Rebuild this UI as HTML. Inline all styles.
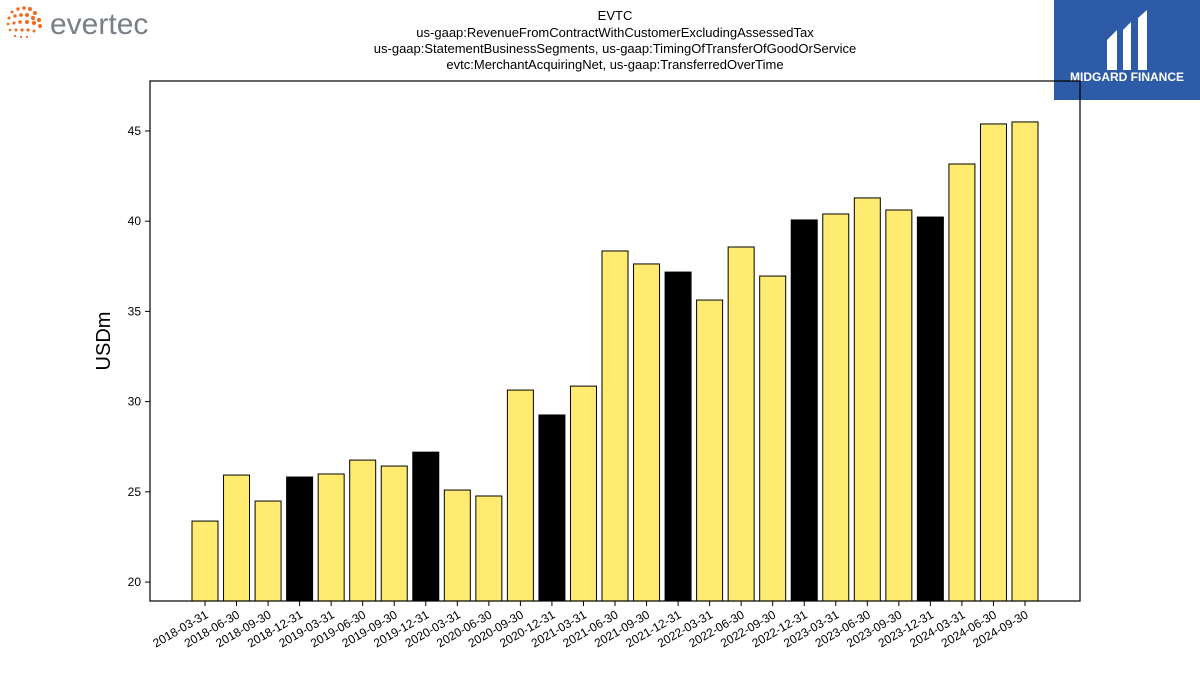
<!DOCTYPE html>
<html><head><meta charset="utf-8"><style>
body{margin:0;background:#fff;width:1200px;height:675px;overflow:hidden;font-family:"Liberation Sans",sans-serif}
</style></head><body>
<svg width="1200" height="675" xmlns="http://www.w3.org/2000/svg">
<g>
<g fill="#f26b21">
<circle cx="12" cy="12" r="1.5"/><circle cx="18" cy="9" r="1.7"/><circle cx="24" cy="8" r="1.8"/><circle cx="30" cy="9" r="2"/><circle cx="35" cy="13" r="2"/>
<circle cx="9" cy="18" r="1.5"/><circle cx="15" cy="16" r="1.7"/><circle cx="21" cy="15" r="1.9"/><circle cx="27" cy="15" r="2"/><circle cx="33" cy="18" r="2.1"/><circle cx="39" cy="20" r="2.1"/>
<circle cx="8" cy="24" r="1.4"/><circle cx="14" cy="23" r="1.6"/><circle cx="20" cy="22" r="1.8"/><circle cx="27" cy="22" r="2"/><circle cx="34" cy="23" r="2.1"/><circle cx="40" cy="26" r="2"/>
<circle cx="10" cy="30" r="1.3"/><circle cx="16" cy="30" r="1.5"/><circle cx="22" cy="30" r="1.6"/><circle cx="28" cy="30" r="1.6"/><circle cx="34" cy="31" r="1.5"/>
<circle cx="15" cy="36" r="1.1"/><circle cx="21" cy="37" r="1.1"/><circle cx="27" cy="37" r="1.1"/>
</g>
<text x="50" y="34" font-size="30" fill="#7a7f87">evertec</text>
</g>
<g>
<rect x="1054" y="0" width="146" height="100" fill="#2d5ba8"/>
<path d="M1107 70 L1107 40 L1117 30 L1117 70 Z M1123 70 L1123 30 L1131 22 L1131 70 Z M1138 70 L1138 18 L1147 10 L1147 70 Z" fill="#fff"/>
<text x="1127" y="81" font-size="12" font-weight="bold" fill="#fff" text-anchor="middle">MIDGARD FINANCE</text>
</g>
<g font-size="13" text-anchor="middle" fill="#000">
<text x="615" y="20">EVTC</text>
<text x="615" y="37">us-gaap:RevenueFromContractWithCustomerExcludingAssessedTax</text>
<text x="615" y="53">us-gaap:StatementBusinessSegments, us-gaap:TimingOfTransferOfGoodOrService</text>
<text x="615" y="69">evtc:MerchantAcquiringNet, us-gaap:TransferredOverTime</text>
</g>
<g id="plot"></g>
<text x="110" y="341" font-size="20" text-anchor="middle" transform="rotate(-90 110 341)">USDm</text>
</svg>
<script>
const categories=["2018-03-31","2018-06-30","2018-09-30","2018-12-31","2019-03-31","2019-06-30","2019-09-30","2019-12-31","2020-03-31","2020-06-30","2020-09-30","2020-12-31","2021-03-31","2021-06-30","2021-09-30","2021-12-31","2022-03-31","2022-06-30","2022-09-30","2022-12-31","2023-03-31","2023-06-30","2023-09-30","2023-12-31","2024-03-31","2024-06-30","2024-09-30"];
const values=[23.38,25.93,24.49,25.82,25.99,26.76,26.43,27.2,25.1,24.77,30.64,29.26,30.86,38.35,37.63,37.18,35.63,38.57,36.96,40.07,40.4,41.29,40.62,40.23,43.17,45.39,45.5];
const yTicks=[20,25,30,35,40,45];
const L=150,R=1080,T=81,B=601,yMin=18.95,yMax=47.77;
const ns="http://www.w3.org/2000/svg";
const g=document.getElementById('plot');
const y=v=>B-(v-yMin)/(yMax-yMin)*(B-T);
const step=(1025-205)/(categories.length-1);
const x=i=>205+i*step;
function mk(t,a){const e=document.createElementNS(ns,t);for(const k in a)e.setAttribute(k,a[k]);g.appendChild(e);return e;}
values.forEach((v,i)=>{
 const bw=26;
 const r=mk('rect',{x:x(i)-bw/2,y:y(v),width:bw,height:B-y(v),fill:categories[i].endsWith('12-31')?'#000':'#ffeb70',stroke:'#000','stroke-width':1});
 
 
 const tk=mk('line',{x1:x(i),x2:x(i),y1:B,y2:B+5,stroke:'#000'});
 
 
 const t=mk('text',{x:x(i)+4,y:B+16,'font-size':12,'text-anchor':'end',transform:`rotate(-30 ${x(i)+4} ${B+16})`});
 t.textContent=categories[i];
 
 
});
yTicks.forEach(v=>{
 const tk=mk('line',{x1:L-5,x2:L,y1:y(v),y2:y(v),stroke:'#000'});
 
 
 const t=mk('text',{x:L-9,y:y(v)+4,'font-size':12,'text-anchor':'end'});
 t.textContent=v;
 
 
});
const f=mk('rect',{x:L,y:T,width:R-L,height:B-T,fill:'none',stroke:'#000','stroke-width':1.2});


</script>
</body></html>
